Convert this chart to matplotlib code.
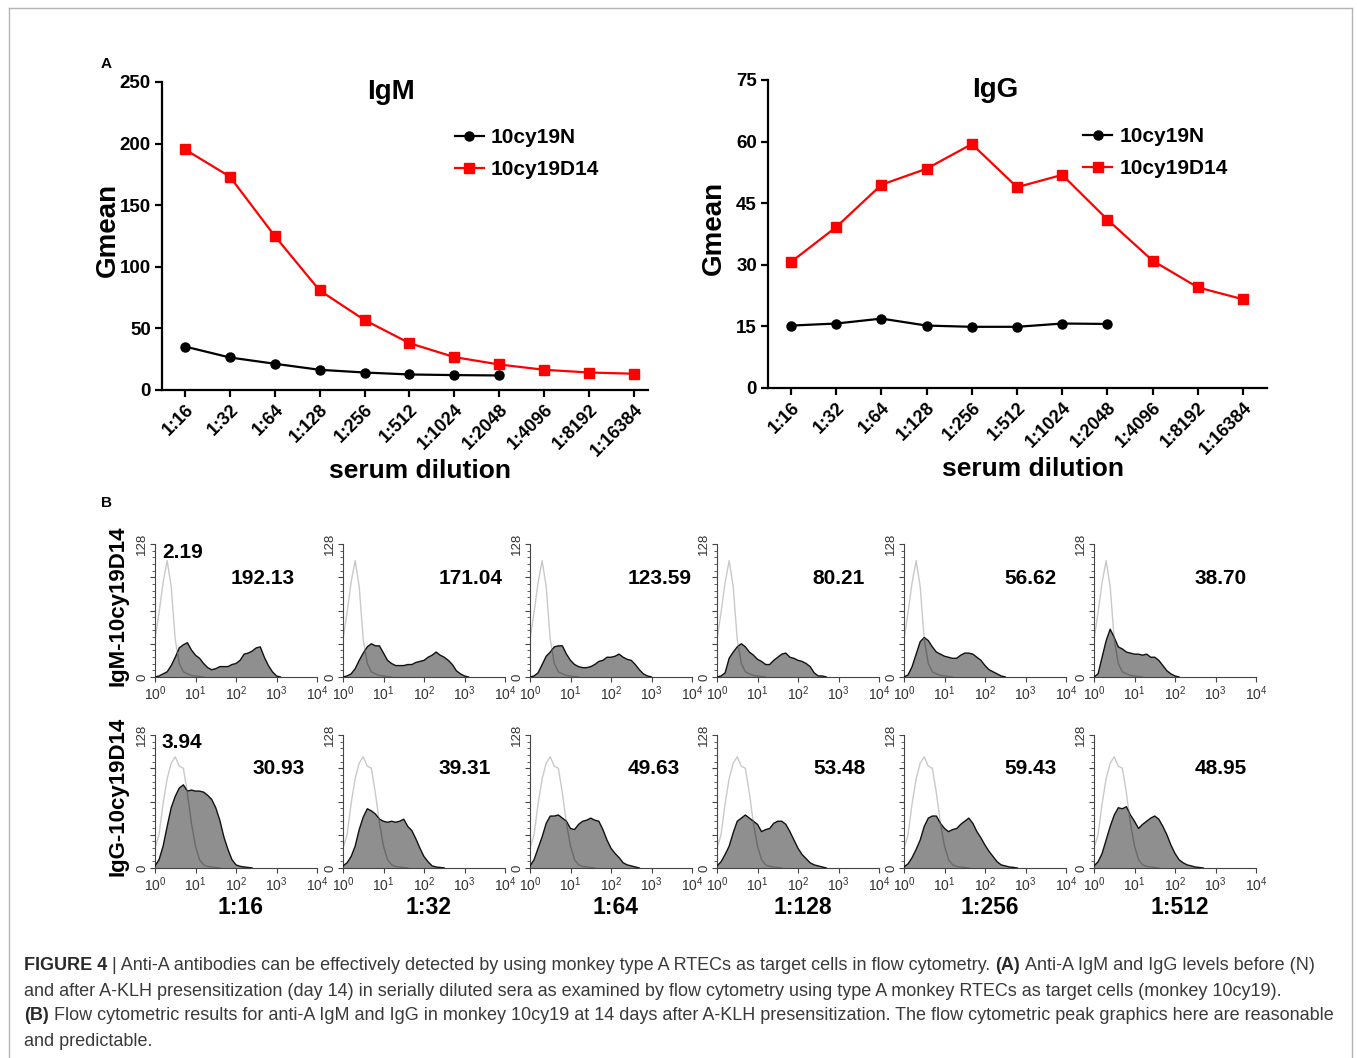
import numpy as np
import matplotlib
matplotlib.use("Agg")
import matplotlib.pyplot as plt
from matplotlib.lines import Line2D
from matplotlib.ticker import LogLocator, MultipleLocator, NullFormatter
from matplotlib import font_manager as fm

# ---------------- data ----------------
dilutions = ["1:16", "1:32", "1:64", "1:128", "1:256", "1:512", "1:1024",
             "1:2048", "1:4096", "1:8192", "1:16384"]
series_names = ["10cy19N", "10cy19D14"]

igm_N = [35.3, 26.4, 21.3, 16.4, 14.2, 12.6, 12.1, 11.8]
igm_D14 = [195.3, 173.2, 125.0, 80.8, 56.8, 38.0, 26.7, 20.7, 16.4, 14.2, 13.2]
igg_N = [15.2, 15.7, 16.9, 15.2, 14.9, 14.9, 15.7, 15.6]
igg_D14 = [30.7, 39.2, 49.5, 53.4, 59.4, 48.9, 51.9, 41.0, 31.0, 24.5, 21.6]

igm_yticks = [0, 50, 100, 150, 200, 250]
igg_yticks = [0, 15, 30, 45, 60, 75]

# flow histograms: counts sampled every 0.1 decade starting at 10^0
hist_step = 0.1
hist_dilutions = ["1:16", "1:32", "1:64", "1:128", "1:256", "1:512"]
row_labels = ["IgM-10cy19D14", "IgG-10cy19D14"]
ctrl_labels = ["2.19", "3.94"]
igm_gmeans = ["192.13", "171.04", "123.59", "80.21", "56.62", "38.70"]
igg_gmeans = ["30.93", "39.31", "49.63", "53.48", "59.43", "48.95"]

igm_ctrl = [36, 62, 91, 112, 87, 36, 13, 5, 3, 1.5, 1, 0.5, 0]
igg_ctrl = [19, 32, 62, 86, 101, 107, 98, 96, 72, 43, 21, 8, 3, 1.5, 1, 0.5, 0]

igm_16 = [0, 1, 3, 5, 11, 19, 28, 31, 33, 26, 21, 18, 13, 9, 7, 8, 10, 10, 10, 12,
          13, 16, 22, 23, 25, 28, 29, 19, 11, 5, 1, 0]
igm_32 = [0, 1, 3, 8, 16, 23, 29, 32, 30, 30, 23, 16, 13, 11, 11, 11, 12, 12, 14, 15,
          16, 19, 21, 24, 21, 19, 16, 12, 6, 3, 1, 0]
igm_64 = [0, 1, 4, 12, 20, 24, 29, 30, 30, 22, 16, 12, 10, 9, 9, 10, 12, 15, 16, 19,
          19, 20, 22, 19, 17, 16, 12, 7, 3, 1, 0]
igm_128 = [0, 1, 4, 18, 24, 29, 32, 29, 24, 21, 17, 15, 12, 12, 16, 19, 22, 23, 19, 18,
           16, 15, 13, 10, 4, 1, 1, 0]
igm_256 = [0, 2, 10, 22, 34, 38, 35, 29, 24, 22, 20, 19, 18, 18, 21, 23, 23, 22, 19, 16,
           11, 7, 5, 3, 1, 0]
igm_512 = [0, 3, 19, 35, 46, 38, 29, 27, 24, 23, 22, 22, 21, 22, 19, 19, 16, 11, 6, 3,
           1, 0]

igg_16 = [2, 8, 21, 40, 58, 69, 77, 80, 74, 75, 74, 74, 73, 70, 66, 58, 46, 30, 18, 8,
          3, 1.6, 1, 0.5, 0]
igg_32 = [2, 5, 11, 21, 37, 49, 57, 55, 52, 47, 45, 44, 45, 44, 45, 47, 40, 36, 28, 19,
          11, 6, 2, 1, 0.5, 0]
igg_64 = [2, 8, 19, 30, 43, 50, 50, 51, 48, 45, 38, 37, 42, 45, 46, 48, 46, 45, 37, 27,
          19, 14, 10, 5, 3, 2, 1, 0]
igg_128 = [2, 6, 13, 21, 34, 45, 48, 51, 48, 45, 42, 35, 37, 38, 43, 45, 45, 42, 35, 27,
           19, 13, 9, 5, 3, 2, 1, 0]
igg_256 = [1, 4, 10, 18, 27, 40, 48, 50, 50, 43, 38, 35, 37, 38, 42, 45, 48, 43, 35, 29,
           22, 16, 11, 6, 3, 2, 1, 0.6, 0]
igg_512 = [2, 6, 14, 27, 40, 51, 58, 57, 59, 51, 45, 38, 42, 45, 48, 50, 47, 40, 32, 22,
           14, 8, 5, 3, 2, 1, 0.5, 0]

igm_rows = [igm_16, igm_32, igm_64, igm_128, igm_256, igm_512]
igg_rows = [igg_16, igg_32, igg_64, igg_128, igg_256, igg_512]

caption = [
    [("FIGURE 4", True), ("| Anti-A antibodies can be effectively detected by using monkey type A RTECs as target cells in flow cytometry.", False),
     ("(A)", True), ("Anti-A IgM and IgG levels before (N)", False)],
    [("and after A-KLH presensitization (day 14) in serially diluted sera as examined by flow cytometry using type A monkey RTECs as target cells (monkey 10cy19).", False)],
    [("(B)", True), ("Flow cytometric results for anti-A IgM and IgG in monkey 10cy19 at 14 days after A-KLH presensitization. The flow cytometric peak graphics here are reasonable", False)],
    [("and predictable.", False)],
]

# ---------------- figure ----------------
W, H = 1357, 1058
plt.rcParams["font.family"] = ["Liberation Sans", "DejaVu Sans"]
plt.rcParams["mathtext.default"] = "regular"
fig = plt.figure(figsize=(W / 100, H / 100), dpi=100)
fig.patch.set_facecolor("white")


def ax_px(l, t, r, b):
    return fig.add_axes([l / W, 1 - b / H, (r - l) / W, (b - t) / H])


# frame
for xs, ys in [([9, 9], [1058, 8]), ([9, 1352], [8, 8]), ([1352, 1352], [8, 1058])]:
    fig.add_artist(Line2D([x / W for x in xs], [1 - y / H for y in ys],
                          transform=fig.transFigure, color="#b4b4b4", lw=1))


def line_panel(ax, title, n_vals, d_vals, yticks, xright, leg_xy, ylab_x, title_x):
    x = np.arange(len(dilutions))
    ax.plot(x[:len(n_vals)], n_vals, "-o", color="black", ms=6.5, lw=1.6,
            label=series_names[0], clip_on=False, zorder=3)
    ax.plot(x[:len(d_vals)], d_vals, "-s", color="#ff0000", ms=6.5, lw=1.6,
            label=series_names[1], clip_on=False, zorder=3)
    ax.set_xlim(-0.51, xright)
    ax.set_ylim(yticks[0], yticks[-1])
    ax.set_yticks(yticks)
    ax.set_xticks(x)
    ax.set_xticklabels(dilutions, rotation=45, ha="right", va="top",
                       rotation_mode="anchor", fontweight="bold", fontsize=13)
    for lab in ax.get_yticklabels():
        lab.set_fontweight("bold")
        lab.set_fontsize(13.5)
    for s in ["top", "right"]:
        ax.spines[s].set_visible(False)
    for s in ["left", "bottom"]:
        ax.spines[s].set_linewidth(1.6)
    ax.tick_params(length=5, width=1.6, direction="out", pad=3)
    ax.set_ylabel("Gmean", fontsize=20, fontweight="bold")
    ax.yaxis.set_label_coords(ylab_x, 0.52)
    ax.text(0.531, -0.262, "serum dilution", transform=ax.transAxes, ha="center",
            va="center", fontsize=19, fontweight="bold")
    ax.text(title_x, 0.968, title, transform=ax.transAxes, ha="center", va="center",
            fontsize=20, fontweight="bold")
    ax.legend(loc="upper left", bbox_to_anchor=leg_xy, frameon=False,
              handlelength=1.4, handletextpad=0.35,
              labelspacing=0.62, borderaxespad=0, prop={"weight": "bold", "size": 15})


ax1 = ax_px(162, 82, 648, 390)
line_panel(ax1, "IgM", igm_N, igm_D14, igm_yticks, 10.31, (0.585, 0.878), -0.084, 0.471)
ax2 = ax_px(768, 80, 1267, 388)
line_panel(ax2, "IgG", igg_N, igg_D14, igg_yticks, 10.53, (0.615, 0.873), -0.082, 0.455)

fig.text(106 / W, 1 - 64 / H, "A", fontsize=11, fontweight="bold", ha="center", va="center")
fig.text(106 / W, 1 - 503 / H, "B", fontsize=11, fontweight="bold", ha="center", va="center")

# ---------------- histograms ----------------
col_left = [155, 343, 530, 717, 904, 1094]
row_tb = [(544, 677), (735, 868)]
num_right = [[295, 503, 692, 865, 1057, 1247], [305, 491, 680, 866, 1057, 1247]]
HW = 162
decade_labels = ["$10^{0}$", "$10^{1}$", "$10^{2}$", "$10^{3}$", "$10^{4}$"]


def hist_panel(ax, ctrl, vals):
    xc = 10 ** (np.arange(len(ctrl)) * hist_step)
    xv = 10 ** (np.arange(len(vals)) * hist_step)
    ax.set_xscale("log")
    ax.plot(xc, ctrl, color="#c9c9c9", lw=1.0, zorder=1)
    poly = ax.fill_between(xv, vals, 0, facecolor="#8f8f8f", edgecolor="none", zorder=2)
    ax.plot(xv, vals, color="#111111", lw=1.0, zorder=3)
    inner, = ax.plot(xc, ctrl, color="#6a6a6a", lw=1.0, zorder=4)
    inner.set_clip_path(poly.get_paths()[0], ax.transData)
    ax.set_xlim(1, 1e4)
    ax.set_ylim(0, 128)
    for s in ["top", "right"]:
        ax.spines[s].set_visible(False)
    for s in ["left", "bottom"]:
        ax.spines[s].set_linewidth(0.8)
        ax.spines[s].set_color("#444444")
    ax.set_xticks([1, 10, 100, 1000, 10000])
    ax.set_xticklabels(decade_labels)
    ax.xaxis.set_minor_locator(LogLocator(base=10, subs=np.arange(2, 10)))
    ax.xaxis.set_minor_formatter(NullFormatter())
    ax.set_yticks([0, 32, 64, 96, 128])
    ax.set_yticklabels(["0", "", "", "", "128"])
    ax.yaxis.set_minor_locator(MultipleLocator(6.4))
    ax.tick_params(which="major", length=3.5, width=0.8, color="#444444",
                   labelsize=10, labelcolor="#333333", pad=1.5)
    ax.tick_params(which="minor", length=2, width=0.6, color="#444444")
    ax.tick_params(axis="y", labelrotation=90, labelsize=9.5)
    for lab in ax.get_yticklabels():
        lab.set_va("center")


for r in range(2):
    top, bot = row_tb[r]
    ctrl = igm_ctrl if r == 0 else igg_ctrl
    rows = igm_rows if r == 0 else igg_rows
    nums = igm_gmeans if r == 0 else igg_gmeans
    for c in range(6):
        l = col_left[c]
        ax = ax_px(l, top, l + HW, bot)
        hist_panel(ax, ctrl, rows[c])
        ymid = top + 34
        fig.text(num_right[r][c] / W, 1 - ymid / H, nums[c], ha="right", va="center",
                 fontsize=15, fontweight="bold")
        if c == 0:
            fig.text(162 / W, 1 - (top + 8) / H, ctrl_labels[r], ha="left",
                     va="center", fontsize=15, fontweight="bold")
        if r == 1:
            fig.text((l + HW * 0.53) / W, 1 - 907 / H, hist_dilutions[c], ha="center",
                     va="center", fontsize=16.5, fontweight="bold")
    fig.text(118 / W, 1 - (top + bot - 10) / 2 / H, row_labels[r], rotation=90,
             ha="center", va="center", fontsize=16, fontweight="bold")

# ---------------- caption ----------------
names = {f.name for f in fm.fontManager.ttflist}
CAPFONT = "Liberation Sans Narrow" if "Liberation Sans Narrow" in names else "Liberation Sans"
renderer = fig.canvas.get_renderer()


def text_w(s, fs, bold):
    t = fig.text(0, 0, s, fontsize=fs, fontweight="bold" if bold else "normal",
                 family=[CAPFONT, "DejaVu Sans"])
    w = t.get_window_extent(renderer).width
    t.remove()
    return w


def line_w(parts, fs):
    sp = text_w("a a", fs, False) - text_w("aa", fs, False)
    return sum(text_w(s, fs, b) for s, b in parts) + sp * (len(parts) - 1)


base_fs = 12
cap_fs = base_fs * 1314 / line_w(caption[2], base_fs)
space_w = text_w("a a", cap_fs, False) - text_w("aa", cap_fs, False)
cap_y = [965, 991, 1016, 1041]
for parts, y in zip(caption, cap_y):
    x = 24
    for s, b in parts:
        t = fig.text(x / W, 1 - y / H, s, fontsize=cap_fs,
                     fontweight="bold" if b else "normal",
                     family=[CAPFONT, "DejaVu Sans"],
                     color="#2a2a2a" if b else "#3a3a3a", ha="left", va="center")
        x += t.get_window_extent(renderer).width + space_w

fig.savefig("out.png", dpi=100)
